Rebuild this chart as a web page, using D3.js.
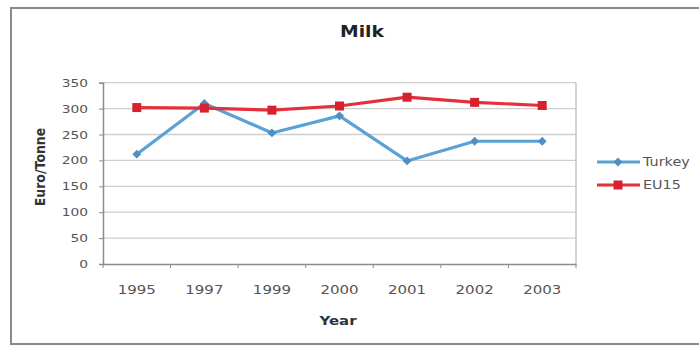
<!DOCTYPE html>
<html>
<head>
<meta charset="utf-8">
<script src="https://cdn.jsdelivr.net/npm/d3@7/dist/d3.min.js"></script>
<style>
  html, body { margin: 0; padding: 0; background: #fff; }
  svg { display: block; font-family: "DejaVu Sans", Verdana, sans-serif; }
</style>
</head>
<body>
<svg id="chart" width="699" height="347"></svg>
<script>
// Milk prices, Euro per tonne
const years = ["1995", "1997", "1999", "2000", "2001", "2002", "2003"];
const turkey = [212, 310, 253, 286, 199, 237, 237];
const eu15 = [302, 301, 297, 305, 322, 312, 306];
const yTicks = [0, 50, 100, 150, 200, 250, 300, 350];
const seriesNames = ["Turkey", "EU15"];

const colors = { Turkey: "#5aa2d6", EU15: "#e3303c" };
const markerColors = { Turkey: "#4f8fc2", EU15: "#d8202e" };

const svg = d3.select("#chart");
const plot = { left: 103, right: 576, top: 82.7, bottom: 264 };
const stretch = 1.25; // wide letterforms

// outer chart frame
svg.append("rect")
  .attr("x", 11).attr("y", 8).attr("width", 740).attr("height", 336)
  .attr("fill", "#fff").attr("stroke", "#8a8a8a").attr("stroke-width", 2);

const x = d3.scaleBand().domain(years).range([plot.left, plot.right]);
const y = d3.scaleLinear().domain([0, 350]).range([plot.bottom, plot.top]);

// gridlines
svg.append("g")
  .selectAll("line")
  .data(yTicks.filter(d => d > 0))
  .join("line")
  .attr("x1", plot.left).attr("x2", plot.right)
  .attr("y1", d => y(d)).attr("y2", d => y(d))
  .attr("stroke", "#cfcfcf").attr("stroke-width", 1.3);

// right edge of plot area
svg.append("line")
  .attr("x1", plot.right).attr("x2", plot.right)
  .attr("y1", plot.top).attr("y2", plot.bottom)
  .attr("stroke", "#bdbdbd").attr("stroke-width", 1.3);

// y axis
const yAxis = d3.axisLeft(y).tickValues(yTicks).tickSize(4).tickPadding(6);
const gy = svg.append("g").attr("transform", `translate(${plot.left},0)`).call(yAxis);
gy.select(".domain").attr("stroke", "#8c8c8c").attr("stroke-width", 1.5);
gy.selectAll(".tick line").attr("stroke", "#8c8c8c");
gy.selectAll(".tick text")
  .attr("font-size", 11).attr("fill", "#555")
  .attr("font-family", "DejaVu Sans")
  .attr("transform", function () {
    const tx = +d3.select(this).attr("x");
    return `translate(${tx * (stretch - 1)},0) scale(${stretch},1)`;
  });

// x axis with ticks at category boundaries
const xAxis = d3.axisBottom(x).tickSize(0).tickPadding(21);
const gx = svg.append("g").attr("transform", `translate(0,${plot.bottom})`).call(xAxis);
gx.select(".domain").attr("stroke", "#8c8c8c").attr("stroke-width", 1.5);
gx.selectAll(".tick text")
  .attr("font-size", 12).attr("fill", "#555")
  .attr("font-family", "DejaVu Sans")
  .attr("transform", `scale(${stretch},1)`)
  .attr("x", 0);
gx.selectAll(".tick").each(function (d) {
  const cx = x(d) + x.bandwidth() / 2;
  d3.select(this).attr("transform", `translate(${cx},0)`);
});
const bounds = years.map((d, i) => x(d)).concat([plot.right]);
svg.append("g")
  .selectAll("line")
  .data(bounds)
  .join("line")
  .attr("x1", d => d).attr("x2", d => d)
  .attr("y1", plot.bottom).attr("y2", plot.bottom + 4)
  .attr("stroke", "#8c8c8c").attr("stroke-width", 1);

// series lines and markers
const cxOf = d => x(d) + x.bandwidth() / 2;
const data = { Turkey: turkey, EU15: eu15 };
const line = d3.line().x(d => cxOf(d.year)).y(d => y(d.value));

seriesNames.forEach(name => {
  const pts = years.map((yr, i) => ({ year: yr, value: data[name][i] }));
  svg.append("path")
    .datum(pts)
    .attr("fill", "none")
    .attr("stroke", colors[name])
    .attr("stroke-width", 3.2)
    .attr("stroke-linejoin", "round")
    .attr("d", line);
  const g = svg.append("g");
  if (name === "EU15") {
    g.selectAll("rect").data(pts).join("rect")
      .attr("x", d => cxOf(d.year) - 4.5).attr("y", d => y(d.value) - 4.5)
      .attr("width", 9).attr("height", 9)
      .attr("fill", markerColors[name]);
  } else {
    g.selectAll("path").data(pts).join("path")
      .attr("d", d3.symbol(d3.symbolDiamond2, 50))
      .attr("transform", d => `translate(${cxOf(d.year)},${y(d.value)})`)
      .attr("fill", markerColors[name]);
  }
});

// title
svg.append("text")
  .attr("transform", `translate(362,37) scale(${stretch},1)`)
  .attr("text-anchor", "middle")
  .attr("font-size", 15).attr("font-weight", "bold").attr("fill", "#222")
  .text("Milk");

// axis titles
svg.append("text")
  .attr("transform", `translate(338,325) scale(${stretch},1)`)
  .attr("text-anchor", "middle")
  .attr("font-size", 12).attr("font-weight", "bold").attr("fill", "#333")
  .text("Year");

svg.append("text")
  .attr("transform", "translate(45,167) rotate(-90) scale(1,1.15)")
  .attr("text-anchor", "middle")
  .attr("font-size", 12.5).attr("font-weight", "bold").attr("fill", "#333")
  .text("Euro/Tonne");

// legend
const legend = svg.append("g");
seriesNames.forEach((name, i) => {
  const ly = 162 + i * 23;
  legend.append("line")
    .attr("x1", 597).attr("x2", 640).attr("y1", ly).attr("y2", ly)
    .attr("stroke", colors[name]).attr("stroke-width", 3);
  if (name === "EU15") {
    legend.append("rect")
      .attr("x", 618 - 4.5).attr("y", ly - 4.5).attr("width", 9).attr("height", 9)
      .attr("fill", markerColors[name]);
  } else {
    legend.append("path")
      .attr("d", d3.symbol(d3.symbolDiamond2, 50))
      .attr("transform", `translate(618,${ly})`)
      .attr("fill", markerColors[name]);
  }
  legend.append("text")
    .attr("transform", `translate(643,${ly + 4}) scale(${stretch},1)`)
    .attr("font-size", 11.5).attr("fill", "#555")
    .text(name);
});
</script>
</body>
</html>
